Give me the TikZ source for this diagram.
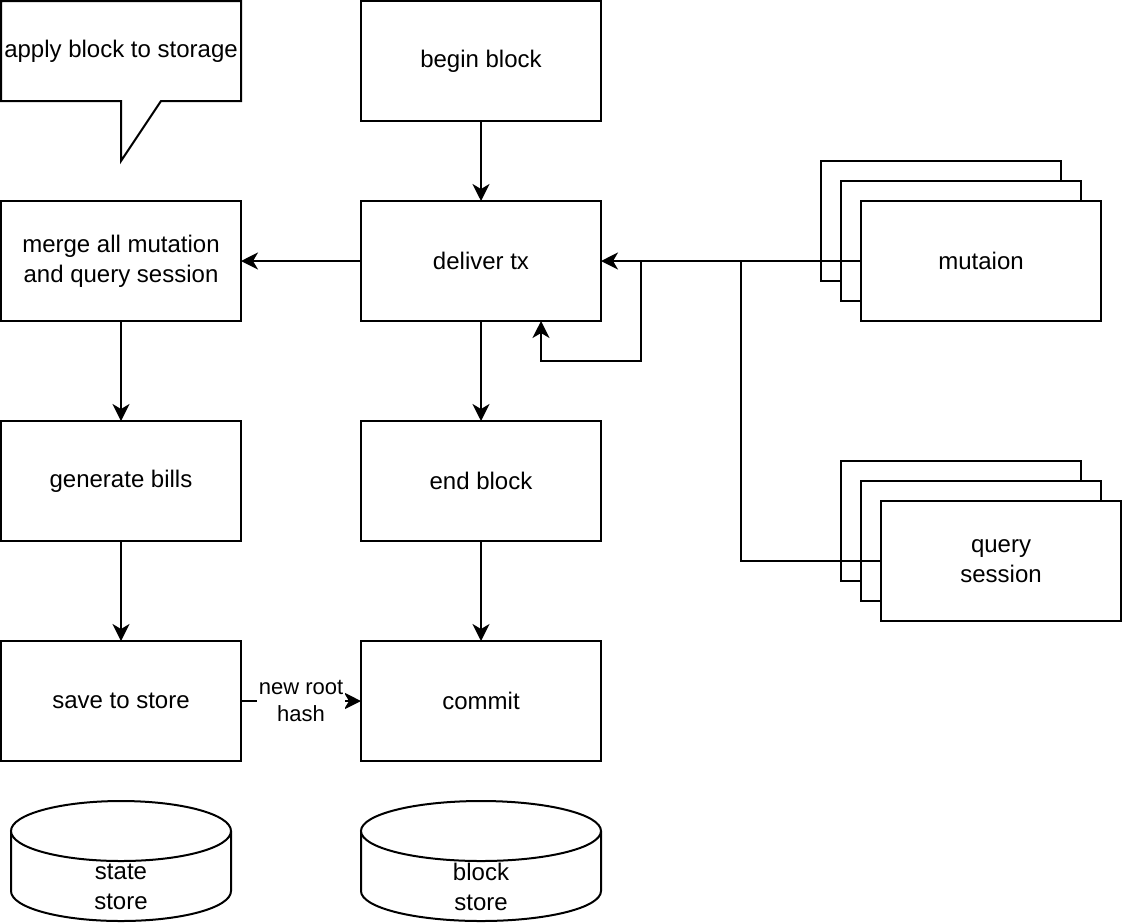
\documentclass[tikz,border=0pt]{standalone}
\usepackage{fontspec}
\setmainfont{Liberation Sans}
\usepackage{tikz}
\usetikzlibrary{calc,shapes,arrows.meta}

\tikzset{
    box/.style={draw, line width=1pt, fill=white, minimum width=120pt, minimum height=60pt, align=center, inner sep=1pt, outer sep=0pt},
    flow/.style={line width=1pt, -{Stealth[length=8.5pt,width=8.5pt,inset=2.5pt]}},
    lbl/.style={fill=white, font=\fontsize{11}{13.5}\selectfont, align=center, inner sep=1pt}
}

\begin{document}
\begin{tikzpicture}[x=0.5pt, y=-0.5pt, font=\fontsize{12}{15}\selectfont]
        \useasboundingbox (0,0) rectangle (1122,922);
        % callout
        \draw[line width=1pt, fill=white] (1,1) -- (241,1) -- (241,101) -- (161,101) -- (121,161) -- (121,101) -- (1,101) -- cycle;
        \node (callout) at (121,51) {apply block to storage};
        % main boxes
        \node[box] (begin) at (481,61) {begin block};
        \node[box] (deliver) at (481,261) {deliver tx};
        \node[box] (merge) at (121,261) {merge all mutation\\and query session};
        \node[box] (bills) at (121,481) {generate bills};
        \node[box] (endblk) at (481,481) {end block};
        \node[box] (save) at (121,701) {save to store};
        \node[box] (commit) at (481,701) {commit};
        % stacks
        \foreach \d in {0, 20}
        \draw[line width=1pt, fill=white, shift={(\d,\d)}] (821,161) rectangle (1061,281);
        \node[box] (mutaion) at (981,261) {mutaion};
        \foreach \d in {0, 20}
        \draw[line width=1pt, fill=white, shift={(\d,\d)}] (841,461) rectangle (1081,581);
        \node[box] (query) at (1001,561) {query\\session};
        % stores
        \draw[line width=1pt, fill=white] (11,831) -- (11,891) arc[start angle=180, end angle=0, x radius=110, y radius=30] -- (231,831);
        \draw[line width=1pt, fill=white] (121,831) ellipse[x radius=110, y radius=30];
        \node[align=center] (statestore) at (121,887) {state\\store};
        \draw[line width=1pt, fill=white] (361,831) -- (361,891) arc[start angle=180, end angle=0, x radius=120, y radius=30] -- (601,831);
        \draw[line width=1pt, fill=white] (481,831) ellipse[x radius=120, y radius=30];
        \node[align=center] (blockstore) at (481,887) {block\\store};
        % connectors
        \draw[flow] (begin) -- (deliver);
        \draw[flow] (deliver) -- (merge);
        \draw[flow] (merge) -- (bills);
        \draw[flow] (bills) -- (save);
        \draw[flow] (deliver) -- (endblk);
        \draw[flow] (endblk) -- (commit);
        \draw[flow] (save) -- node[lbl] (roothash) {new root\\hash} (commit);
        \draw[flow] (mutaion.west) -- (deliver.east);
        \draw[flow] (query.west) -| (741,261) -| (641,361) -| ($(deliver.south)+(60,0)$);
\end{tikzpicture}
\end{document}
